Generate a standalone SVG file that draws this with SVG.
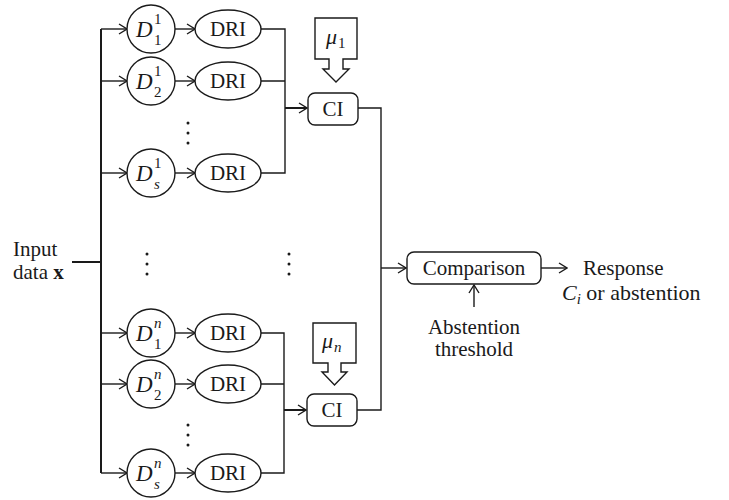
<svg xmlns="http://www.w3.org/2000/svg" width="729" height="500" viewBox="0 0 729 500" font-family="'Liberation Serif', serif">
<defs>
<marker id="ah" viewBox="0 0 10 12" refX="9" refY="6" markerWidth="10" markerHeight="12" markerUnits="userSpaceOnUse" orient="auto">
<path d="M1,1 L9,6 L1,11" fill="none" stroke="#1a1a1a" stroke-width="1.4"/>
</marker>
</defs>
<style>
text{font-family:'Liberation Serif',serif;font-size:21px;fill:#1a1a1a}
.i{font-style:italic}
.d{font-size:23px}
.s{font-size:15px}
.big{font-size:22px}
.ln{fill:none;stroke:#1a1a1a;stroke-width:1.4}
.th{fill:none;stroke:#1a1a1a;stroke-width:2}
.n{fill:#fff;stroke:#1a1a1a;stroke-width:1.4}
.dot{fill:#1a1a1a}
</style>
<rect width="729" height="500" fill="#fff"/>

<g id="connectors">
<path class="th" d="M72,262 H101 M101,29 V473"/>
<path class="ln" d="M101,29 H127" marker-end="url(#ah)"/>
<path class="ln" d="M101,81 H127" marker-end="url(#ah)"/>
<path class="ln" d="M101,173 H127" marker-end="url(#ah)"/>
<path class="ln" d="M101,333 H127" marker-end="url(#ah)"/>
<path class="ln" d="M101,384 H127" marker-end="url(#ah)"/>
<path class="ln" d="M101,473 H127" marker-end="url(#ah)"/>
<path class="ln" d="M175,29 H195" marker-end="url(#ah)"/>
<path class="ln" d="M175,81 H195" marker-end="url(#ah)"/>
<path class="ln" d="M175,173 H195" marker-end="url(#ah)"/>
<path class="ln" d="M175,333 H195" marker-end="url(#ah)"/>
<path class="ln" d="M175,384 H195" marker-end="url(#ah)"/>
<path class="ln" d="M175,473 H195" marker-end="url(#ah)"/>
<path class="ln" d="M261,29 H285 V173 H261 M261,81 H285"/>
<path class="ln" d="M261,333 H284 V473 H261 M261,384 H284"/>
<path class="th" d="M285,108 H307" marker-end="url(#ah)"/>
<path class="th" d="M284,410 H306" marker-end="url(#ah)"/>
<path class="ln" d="M358,108 H381 V410 H357"/>
<path class="ln" d="M381,268 H406" marker-end="url(#ah)"/>
<path class="ln" d="M541,268 H567" marker-end="url(#ah)"/>
<path class="ln" d="M474,307 V285" marker-end="url(#ah)"/>
</g>

<g id="input"><text x="13" y="256">Input</text><text x="13" y="279">data <tspan font-weight="bold">x</tspan></text></g>

<g id="d11"><circle class="n" cx="151" cy="29" r="24"/><text class="i d" x="136" y="37">D</text><text class="s" x="154" y="24">1</text><text class="s" x="154" y="45">1</text></g>
<g id="d21"><circle class="n" cx="151" cy="81" r="24"/><text class="i d" x="136" y="89">D</text><text class="s" x="154" y="76">1</text><text class="s" x="154" y="97">2</text></g>
<g id="ds1"><circle class="n" cx="151" cy="173" r="24"/><text class="i d" x="136" y="181">D</text><text class="s" x="154" y="168">1</text><text class="s i" x="154" y="189">s</text></g>
<g id="d1n"><circle class="n" cx="151" cy="333" r="24"/><text class="i d" x="136" y="341">D</text><text class="s i" x="154" y="328">n</text><text class="s" x="154" y="349">1</text></g>
<g id="d2n"><circle class="n" cx="151" cy="384" r="24"/><text class="i d" x="136" y="392">D</text><text class="s i" x="154" y="379">n</text><text class="s" x="154" y="400">2</text></g>
<g id="dsn"><circle class="n" cx="151" cy="473" r="24"/><text class="i d" x="136" y="481">D</text><text class="s i" x="154" y="468">n</text><text class="s i" x="154" y="489">s</text></g>

<g id="dri1"><ellipse class="n" cx="228" cy="29" rx="33" ry="19"/><text x="228" y="36" text-anchor="middle">DRI</text></g>
<g id="dri2"><ellipse class="n" cx="228" cy="81" rx="33" ry="19"/><text x="228" y="88" text-anchor="middle">DRI</text></g>
<g id="dri3"><ellipse class="n" cx="228" cy="173" rx="33" ry="19"/><text x="228" y="180" text-anchor="middle">DRI</text></g>
<g id="dri4"><ellipse class="n" cx="228" cy="333" rx="33" ry="19"/><text x="228" y="340" text-anchor="middle">DRI</text></g>
<g id="dri5"><ellipse class="n" cx="228" cy="384" rx="33" ry="19"/><text x="228" y="391" text-anchor="middle">DRI</text></g>
<g id="dri6"><ellipse class="n" cx="228" cy="473" rx="33" ry="19"/><text x="228" y="480" text-anchor="middle">DRI</text></g>

<g id="vdots">
<circle class="dot" cx="188" cy="123" r="1.5"/><circle class="dot" cx="188" cy="133" r="1.5"/><circle class="dot" cx="188" cy="143" r="1.5"/>
<circle class="dot" cx="188" cy="425" r="1.5"/><circle class="dot" cx="188" cy="435" r="1.5"/><circle class="dot" cx="188" cy="445" r="1.5"/>
<circle class="dot" cx="147" cy="254" r="1.5"/><circle class="dot" cx="147" cy="264" r="1.5"/><circle class="dot" cx="147" cy="274" r="1.5"/>
<circle class="dot" cx="289" cy="254" r="1.5"/><circle class="dot" cx="289" cy="264" r="1.5"/><circle class="dot" cx="289" cy="274" r="1.5"/>
</g>

<g id="mu1"><path class="n" d="M315,18 H357 V59 H343 V69 H349 L336,82 L323,69 H329 V59 H315 Z"/><text class="i big" x="326" y="44">μ</text><text class="s" x="338" y="48">1</text></g>
<g id="ci1"><rect class="n" x="308" y="93" width="50" height="32" rx="7"/><text x="333" y="116" text-anchor="middle">CI</text></g>
<g id="mun"><path class="n" d="M313,323 H356 V363 H341 V372 H347 L334.5,385 L322,372 H328 V363 H313 Z"/><text class="i big" x="322" y="348">μ</text><text class="s i" x="334" y="352">n</text></g>
<g id="cin"><rect class="n" x="307" y="394" width="50" height="32" rx="7"/><text x="332" y="417" text-anchor="middle">CI</text></g>

<g id="comparison"><rect class="n" x="407" y="252" width="134" height="32" rx="7"/><text x="474" y="275" text-anchor="middle">Comparison</text></g>
<g id="response"><text x="583" y="275">Response</text><text class="big" x="562" y="300"><tspan font-style="italic">C</tspan><tspan class="s" font-style="italic" dy="4">i</tspan><tspan dy="-4"> or abstention</tspan></text></g>
<g id="threshold"><text x="474" y="334" text-anchor="middle">Abstention</text><text x="474" y="356" text-anchor="middle">threshold</text></g>
</svg>
